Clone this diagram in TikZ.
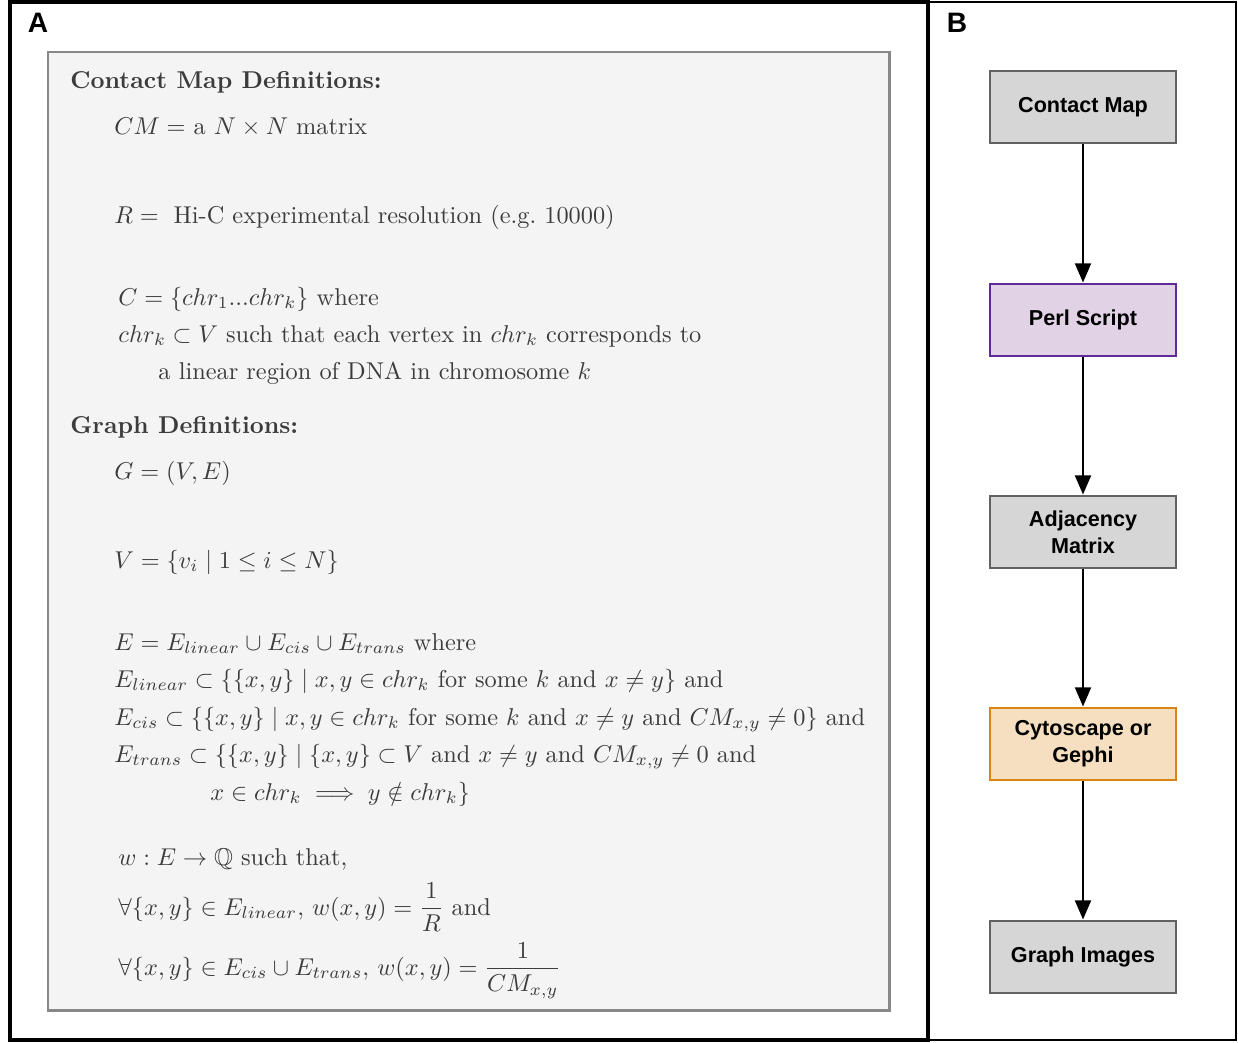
\documentclass[tikz,border=0pt]{standalone}
\usepackage{amsmath}
\usepackage{amssymb}
\usepackage{fontspec}
\usepackage{tikz}
\usetikzlibrary{arrows.meta}
\newfontfamily\panelfont{Liberation Sans}
\definecolor{deftext}{HTML}{3C3C3C}
\definecolor{defbg}{HTML}{F4F4F4}
\definecolor{defframe}{HTML}{888888}
\definecolor{stepgray}{HTML}{D6D6D6}
\definecolor{stepgrayline}{HTML}{626262}
\definecolor{perlfill}{HTML}{E1D2E6}
\definecolor{perlline}{HTML}{5E2A96}
\definecolor{cytofill}{HTML}{F6DFC0}
\definecolor{cytoline}{HTML}{D98414}

\begin{document}
\begin{tikzpicture}[
            x=0.02cm, y=-0.02cm,
            defn/.style={anchor=base west, inner sep=0pt, scale=1.385, text=deftext},
            panel/.style={font=\panelfont\bfseries\fontsize{16}{18}\selectfont},
            stepbox/.style={rectangle, draw=stepgrayline, fill=stepgray, line width=1.6pt,
                minimum width=3.72cm, minimum height=1.44cm, align=center,
                font=\panelfont\bfseries\fontsize{12.3}{15.3}\selectfont},
            perlbox/.style={stepbox, draw=perlline, fill=perlfill},
            cytobox/.style={stepbox, draw=cytoline, fill=cytofill},
            flow/.style={line width=1.6pt, -{Triangle[width=9pt,length=11pt]}}
        ]
            \useasboundingbox (0,0) rectangle (1238,1042);

            % Frames
            \draw[line width=2.2pt] (10,2) rectangle (928,1040);
            \draw[line width=1.2pt] (928,2) rectangle (1236,1040);
            \draw[defframe, fill=defbg, line width=1.7pt] (48,52) rectangle (889,1010);

            % Panel letters
            \node[panel] (labA) at (38,23) {A};
            \node[panel] (labB) at (957,23) {B};

            % Contact map definitions
            \node[defn] (cmhead) at (70,88) {\textbf{Contact Map Definitions:}};
            \node[defn] (cmdef) at (114,134) {$CM = $ a $N \times N$ matrix};
            \node[defn] (rdef) at (114,223) {$R = \;$ Hi-C experimental resolution (e.g.\ 10000)};
            \node[defn] (cdef) at (118,305) {$C = \{chr_1...chr_k\}$ where};
            \node[defn] (chrdef) at (118,342) {$chr_k \subset V$ such that each vertex in $chr_k$ corresponds to};
            \node[defn] (chrmore) at (158,379) {a linear region of DNA in chromosome $k$};

            % Graph definitions
            \node[defn] (ghead) at (70,433) {\textbf{Graph Definitions:}};
            \node[defn] (gdef) at (114,479) {$G = (V,E)$};
            \node[defn] (vdef) at (114,568) {$V = \{v_i \mid 1 \leq i \leq N\}$};
            \node[defn] (edef) at (114,650) {$E = E_{linear} \cup E_{cis} \cup E_{trans}$ where};
            \node[defn] (elin) at (114,687) {$E_{linear} \subset \{\{x,y\} \mid x,y \in chr_k$ for some $k$ and $x \neq y\}$ and};
            \node[defn] (ecis) at (114,725) {$E_{cis} \subset \{\{x,y\} \mid x,y \in chr_k$ for some $k$ and $x \neq y$ and $CM_{x,y} \neq 0\}$ and};
            \node[defn] (etrans) at (114,762) {$E_{trans} \subset \{\{x,y\} \mid \{x,y\} \subset V$ and $x \neq y$ and $CM_{x,y} \neq 0$ and};
            \node[defn] (etmore) at (210,800) {$x \in chr_k \implies y \notin chr_k\}$};
            \node[defn] (wdef) at (118,865) {$w : E \to \mathbb{Q}$ such that,};
            \node[defn] (wlin) at (118,915) {$\forall \{x,y\} \in E_{linear},\, w(x,y) = \dfrac{1}{R}$ and};
            \node[defn] (wcis) at (118,975) {$\forall \{x,y\} \in E_{cis} \cup E_{trans},\, w(x,y) = \dfrac{1}{CM_{x,y}}$};

            % Pipeline
            \node[stepbox] (cmap) at (1083,107) {Contact Map};
            \node[perlbox] (perl) at (1083,320) {Perl Script};
            \node[stepbox] (adj) at (1083,532) {Adjacency\\Matrix};
            \node[cytobox] (cyto) at (1083,744) {Cytoscape or\\Gephi};
            \node[stepbox] (graph) at (1083,957) {Graph Images};

            \foreach \a/\b in {cmap/perl, perl/adj, adj/cyto, cyto/graph}
                \draw[flow] (\a) -- (\b);
        \end{tikzpicture}
\end{document}
